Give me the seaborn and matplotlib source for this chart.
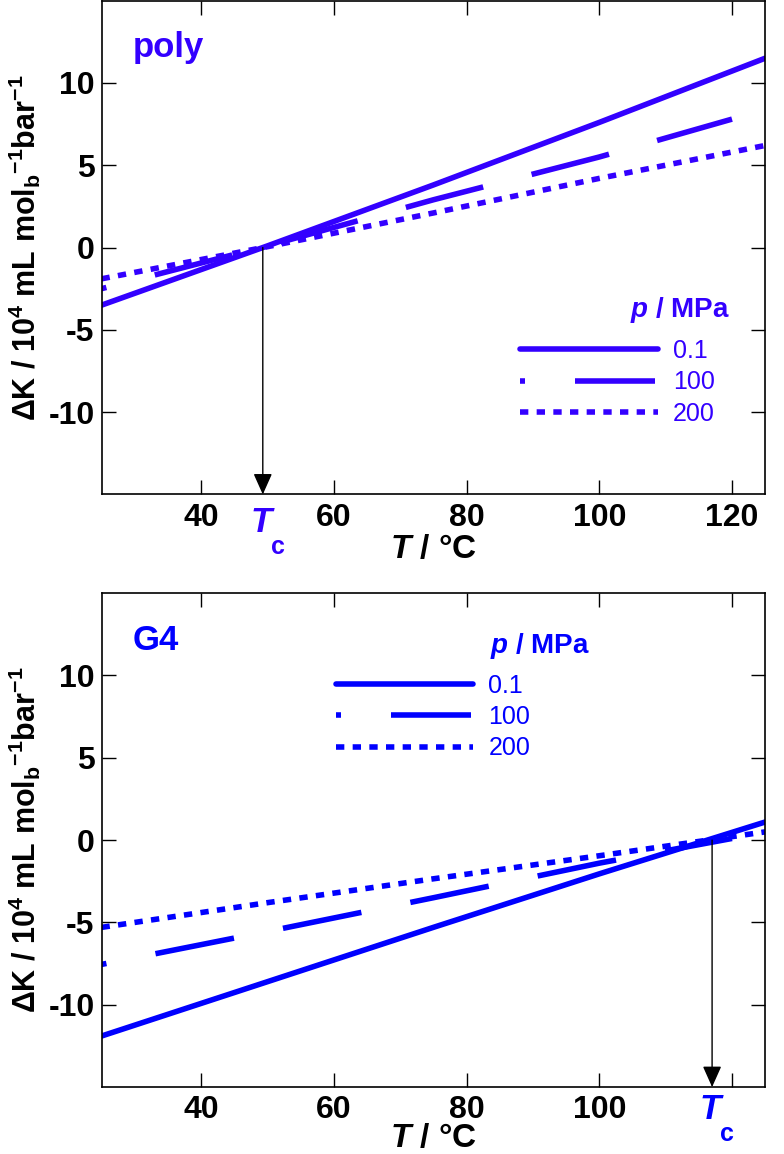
import matplotlib
matplotlib.use("Agg")
import pandas as pd
import matplotlib.pyplot as plt
import seaborn as sns
from matplotlib.lines import Line2D

sns.set_style("ticks")
plt.rcParams['font.family'] = ['Liberation Sans', 'DejaVu Sans']
plt.rcParams['mathtext.fontset'] = 'custom'
plt.rcParams['mathtext.rm'] = 'Liberation Sans'
plt.rcParams['mathtext.bf'] = 'Liberation Sans:bold'
plt.rcParams['mathtext.it'] = 'Liberation Sans:italic'
plt.rcParams['mathtext.bfit'] = 'Liberation Sans:bold:italic'
plt.rcParams['axes.unicode_minus'] = False
plt.rcParams['text.color'] = 'black'
plt.rcParams['axes.labelcolor'] = 'black'
plt.rcParams['xtick.color'] = 'black'
plt.rcParams['ytick.color'] = 'black'

# pressures (legend)
pressures = ["0.1", "100", "200"]

# poly panel
poly_T_01 = [25, 50, 75, 100, 125]
poly_dK_01 = [-3.5, 0.1, 3.8, 7.6, 11.5]
poly_T_100 = [25, 50, 75, 100, 120]
poly_dK_100 = [-2.5, 0.1, 2.9, 5.5, 7.8]
poly_T_200 = [25, 50, 75, 100, 125]
poly_dK_200 = [-1.9, 0.05, 2.1, 4.2, 6.2]
poly_Tc = 49.3

# G4 panel
g4_T_01 = [25, 50, 75, 100, 125]
g4_dK_01 = [-11.9, -8.6, -5.3, -2.05, 1.1]
g4_T_100 = [25, 50, 75, 100, 120]
g4_dK_100 = [-7.55, -5.55, -3.5, -1.4, 0.1]
g4_T_200 = [25, 50, 75, 100, 125]
g4_dK_200 = [-5.3, -3.8, -2.35, -0.95, 0.5]
g4_Tc = 117.0

xticks = [40, 60, 80, 100, 120]
yticks = [-10, -5, 0, 5, 10]

styles = ['-', (13.5, (14.4, 9.0)), (0, (1.5, 1.5))]
LW = 4


def make_df(Ts, dKs):
    rows = []
    for p, T, dK in zip(pressures, Ts, dKs):
        for t, k in zip(T, dK):
            rows.append({"T": t, "dK": k, "p": p})
    return pd.DataFrame(rows)


def panel(ax, df, color, name, tc, leg_anchor, title_pos, tc_off, xpad, hide_120=False):
    for p, ls in zip(pressures, styles):
        sns.lineplot(data=df[df.p == p], x="T", y="dK", ax=ax, color=color,
                     lw=LW, linestyle=ls, legend=False)
    ax.set_xlim(25, 125)
    ax.set_ylim(-15, 15)
    ax.set_xticks(xticks)
    ax.set_yticks(yticks)
    if hide_120:
        ax.set_xticklabels([str(t) if t != 120 else "" for t in xticks])
    ax.tick_params(direction='in', length=10, width=1, top=True, right=True,
                   labelsize=23)
    ax.tick_params(axis='x', pad=6)
    ax.tick_params(axis='y', pad=5)
    for lab in ax.get_xticklabels() + ax.get_yticklabels():
        lab.set_fontweight('bold')
    for s in ax.spines.values():
        s.set_linewidth(1.2)
        s.set_color('black')
    ax.set_xlabel(r"$\mathbfit{T}$ / °C", fontsize=24, fontweight='bold', labelpad=xpad)
    ax.set_ylabel(r"ΔK / 10$^\mathbf{4}$ mL mol$_\mathbf{b}$$^\mathbf{-1}$bar$^\mathbf{-1}$",
                  fontsize=22, fontweight='bold', labelpad=4)
    ax.text(0.047, 0.885, name, transform=ax.transAxes, fontsize=25,
            fontweight='bold', color=color, va='baseline')

    # Tc arrow
    ax.annotate("", xy=(tc, -15), xytext=(tc, 0),
                arrowprops=dict(arrowstyle='-|>,head_length=0.65,head_width=0.29',
                                color='black', lw=1, mutation_scale=20,
                                shrinkA=0, shrinkB=0))
    ax.annotate(r"$\mathbfit{T}$", xy=(tc, 0), xycoords=('data', 'axes fraction'),
                xytext=(0, tc_off[0]), textcoords='offset points', ha='center', va='center',
                fontsize=25, color=color, annotation_clip=False)
    ax.annotate("c", xy=(tc, 0), xycoords=('data', 'axes fraction'),
                xytext=(11, tc_off[1]), textcoords='offset points', ha='center', va='center',
                fontsize=18, fontweight='bold', color=color, annotation_clip=False)

    handles = [Line2D([], [], color=color, lw=LW, linestyle=ls) for ls in styles]
    ax.legend(handles, pressures, loc='center left', bbox_to_anchor=leg_anchor,
              frameon=False, handlelength=5.5, handletextpad=0.6,
              labelspacing=0.29, borderpad=0, borderaxespad=0,
              labelcolor=color, prop={'size': 18})
    ax.text(title_pos[0], title_pos[1], r"$\mathbfit{p}$ / MPa", transform=ax.transAxes,
            ha='right', va='center', fontsize=20, fontweight='bold', color=color)


fig = plt.figure(figsize=(7.84, 11.54), dpi=100)
ax1 = fig.add_axes([0.1295, 0.5715, 0.8465, 0.428])
ax2 = fig.add_axes([0.1295, 0.058, 0.8465, 0.428])

df_poly = make_df([poly_T_01, poly_T_100, poly_T_200], [poly_dK_01, poly_dK_100, poly_dK_200])
df_g4 = make_df([g4_T_01, g4_T_100, g4_T_200], [g4_dK_01, g4_dK_100, g4_dK_200])

panel(ax1, df_poly, "#3300ff", "poly", poly_Tc, (0.631, 0.227), (0.947, 0.3745), (-20, -38), 1)
panel(ax2, df_g4, "#0000ff", "G4", g4_Tc, (0.353, 0.749), (0.736, 0.893), (-16, -34), -2,
      hide_120=True)

fig.savefig("out.png", dpi=100)
